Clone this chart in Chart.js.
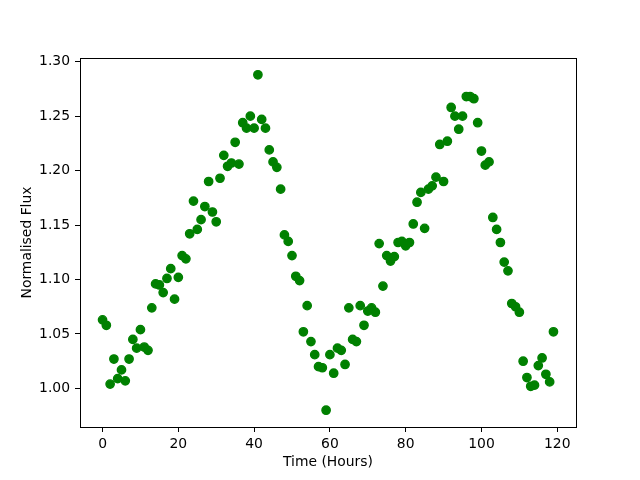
<!DOCTYPE html>
<html>
<head>
<meta charset="utf-8">
<script src="https://cdn.jsdelivr.net/npm/chart.js@4.4.1/dist/chart.umd.min.js"></script>
<style>
  html, body { margin: 0; padding: 0; background: #ffffff; }
  #wrap { width: 640px; height: 480px; }
</style>
</head>
<body>
<div id="wrap"><canvas id="c" width="640" height="480"></canvas></div>
<script>
// Time (hours)
const hours = [];
for (let h = 0; h < 120; h++) hours.push(h);

// Normalised flux
const flux = [
  1.063, 1.058, 1.004, 1.027, 1.009, 1.017, 1.007, 1.027, 1.045, 1.037,
  1.054, 1.038, 1.035, 1.074, 1.096, 1.095, 1.088, 1.101, 1.110, 1.082,
  1.102, 1.122, 1.119, 1.142, 1.172, 1.146, 1.155, 1.167, 1.190, 1.162,
  1.153, 1.193, 1.214, 1.204, 1.207, 1.226, 1.206, 1.244, 1.239, 1.250,
  1.239, 1.288, 1.247, 1.239, 1.219, 1.208, 1.203, 1.183, 1.141, 1.135,
  1.122, 1.103, 1.099, 1.052, 1.076, 1.043, 1.031, 1.020, 1.019, 0.980,
  1.031, 1.014, 1.037, 1.035, 1.022, 1.074, 1.045, 1.043, 1.076, 1.058,
  1.071, 1.074, 1.070, 1.133, 1.094, 1.122, 1.117, 1.121, 1.134, 1.135,
  1.131, 1.134, 1.151, 1.171, 1.180, 1.147, 1.183, 1.186, 1.194, 1.224,
  1.190, 1.227, 1.258, 1.250, 1.238, 1.250, 1.268, 1.268, 1.266, 1.244,
  1.218, 1.205, 1.208, 1.157, 1.146, 1.134, 1.116, 1.108, 1.078, 1.075,
  1.070, 1.025, 1.010, 1.002, 1.003, 1.021, 1.028, 1.013, 1.006, 1.052
];

const xTicks = [0, 20, 40, 60, 80, 100, 120];
const yTicks = [1.00, 1.05, 1.10, 1.15, 1.20, 1.25, 1.30];

const points = hours.map((h, i) => ({ x: h, y: flux[i] }));

const FONT = { family: 'DejaVu Sans', size: 13.9 };

const frame = {
  id: 'frame',
  afterDatasetsDraw(chart) {
    const a = chart.chartArea, ctx = chart.ctx;
    ctx.save();
    ctx.strokeStyle = '#000000';
    ctx.lineWidth = 1;
    ctx.strokeRect(Math.round(a.left) + 0.5, Math.round(a.top) + 0.5,
                   Math.round(a.right - a.left), Math.round(a.bottom - a.top));
    ctx.restore();
  }
};

new Chart(document.getElementById('c'), {
  type: 'scatter',
  data: {
    datasets: [{
      data: points,
      backgroundColor: '#008000',
      borderColor: '#008000',
      borderWidth: 1.39,
      pointRadius: 4.17,
      pointHoverRadius: 4.17
    }]
  },
  options: {
    responsive: false,
    animation: false,
    events: [],
    layout: { padding: { left: 0, right: 64, top: 58, bottom: 0 } },
    plugins: { legend: { display: false }, tooltip: { enabled: false } },
    scales: {
      x: {
        type: 'linear',
        min: -5.95,
        max: 124.95,
        afterFit(s) { s.height = 53; },
        afterBuildTicks(s) { s.ticks = xTicks.map(v => ({ value: v })); },
        grid: { drawOnChartArea: false, drawTicks: true, tickLength: 5, color: '#000000', lineWidth: 1 },
        border: { display: true, color: '#000000', width: 1 },
        ticks: { color: '#000000', font: FONT, padding: 4, maxRotation: 0, autoSkip: false,
                 callback: v => String(v) },
        title: { display: true, text: 'Time (Hours)', color: '#000000', font: FONT,
                 padding: { top: 0, bottom: 9 } }
      },
      y: {
        type: 'linear',
        min: 0.9646,
        max: 1.3034,
        afterFit(s) { s.width = 80; },
        afterBuildTicks(s) { s.ticks = yTicks.map(v => ({ value: v })); },
        grid: { drawOnChartArea: false, drawTicks: true, tickLength: 5, color: '#000000', lineWidth: 1 },
        border: { display: true, color: '#000000', width: 1 },
        ticks: { color: '#000000', font: FONT, padding: 5, autoSkip: false,
                 callback: v => Number(v).toFixed(2) },
        title: { display: true, text: 'Normalised Flux', color: '#000000', font: FONT,
                 padding: { top: 19, bottom: 0 } }
      }
    }
  },
  plugins: [frame]
});
</script>
</body>
</html>
